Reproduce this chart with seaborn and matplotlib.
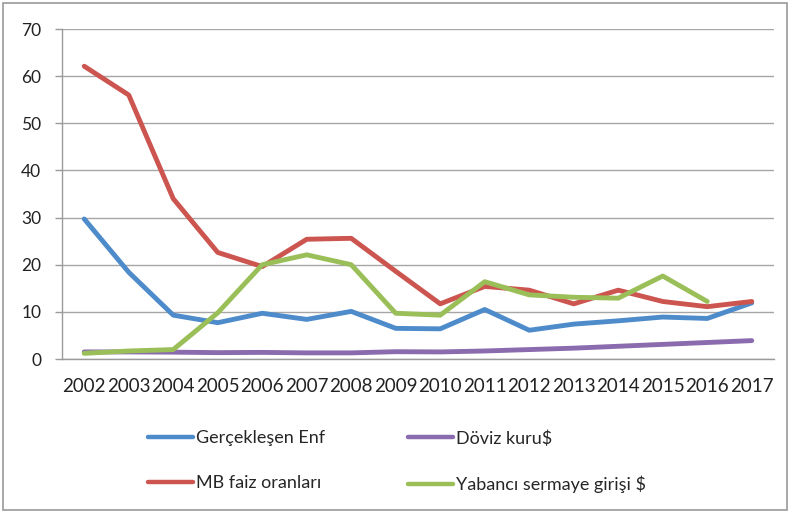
import matplotlib
matplotlib.use("Agg")
import matplotlib.pyplot as plt
import seaborn as sns
import pandas as pd
import numpy as np
from matplotlib.patches import Rectangle
from matplotlib.lines import Line2D

years = ["2002", "2003", "2004", "2005", "2006", "2007", "2008", "2009",
         "2010", "2011", "2012", "2013", "2014", "2015", "2016", "2017"]
enf = [29.7, 18.4, 9.3, 7.7, 9.7, 8.4, 10.1, 6.5, 6.4, 10.5, 6.1, 7.4, 8.1, 8.9, 8.6, 11.9]
doviz = [1.5, 1.5, 1.45, 1.35, 1.4, 1.3, 1.3, 1.55, 1.5, 1.7, 2.0, 2.3, 2.7, 3.1, 3.5, 3.9]
faiz = [62.1, 56.0, 34.0, 22.6, 19.6, 25.4, 25.6, 18.6, 11.7, 15.4, 14.6, 11.7, 14.6, 12.2, 11.1, 12.2]
yabanci = [1.2, 1.7, 2.0, 9.8, 20.0, 22.1, 20.0, 9.7, 9.3, 16.4, 13.6, 13.1, 12.9, 17.6, 12.2, np.nan]

labels = ["Gerçekleşen Enf", "Döviz kuru$", "MB faiz oranları", "Yabancı sermaye girişi $"]
colors = ["#4E8BCB", "#8A6BAE", "#CC5550", "#9BBF58"]

sns.set_theme(style="white")
plt.rcParams["font.family"] = ["Lato", "DejaVu Sans"]

x = np.arange(len(years))
df = pd.DataFrame({
    "x": np.tile(x, 4),
    "value": enf + doviz + faiz + yabanci,
    "series": np.repeat(labels, len(years)),
})

fig = plt.figure(figsize=(7.92, 5.14), dpi=100)
ax = fig.add_axes([62/792, 1-359/514, (774-62)/792, (359-29)/514])

sns.lineplot(data=df, x="x", y="value", hue="series", hue_order=labels,
             palette=dict(zip(labels, colors)), linewidth=3.5, ax=ax,
             legend=False, sort=False)

ax.set_xlim(-0.5, len(years) - 0.5)
ax.set_ylim(0, 70)
ax.set_yticks(range(0, 71, 10))
ax.set_xticks(x)
ax.set_xticklabels(years)
ax.set_xticks(np.arange(-0.5, len(years), 1), minor=True)
ax.tick_params(axis="x", which="major", length=0, pad=14, labelsize=13.5, labelcolor="#222222")
ax.tick_params(axis="x", which="minor", length=5, width=1, color="#9a9a9a", direction="out")
ax.tick_params(axis="y", length=5, width=1, color="#9a9a9a", direction="out", left=True,
               labelsize=12.5, labelcolor="#222222", pad=10)
ax.set_xlabel("")
ax.set_ylabel("")
ax.yaxis.grid(True, color="#a6a6a6", linewidth=1)
ax.xaxis.grid(False)
ax.set_axisbelow(True)
for s in ["top", "right"]:
    ax.spines[s].set_visible(False)
for s in ["left", "bottom"]:
    ax.spines[s].set_color("#9a9a9a")
    ax.spines[s].set_linewidth(1)

leg_kw = dict(loc="upper left", frameon=False, borderpad=0, borderaxespad=0,
              fontsize=13, handlelength=2.5, handletextpad=0.17, labelspacing=1.6)
cols = [[0, 2], [1, 3]]
xs = [148, 408]
for idxs, xpos in zip(cols, xs):
    hs = [Line2D([0], [0], color=colors[i], linewidth=3.2) for i in idxs]
    fig.legend(hs, [labels[i] for i in idxs], bbox_to_anchor=(xpos/792, 1-430/514), **leg_kw)

fig.patches.append(Rectangle((3/792, 4/514), 784/792, 507/514, transform=fig.transFigure,
                             fill=False, edgecolor="#9a9a9a", linewidth=1.2))

fig.savefig("out.png", dpi=100)
